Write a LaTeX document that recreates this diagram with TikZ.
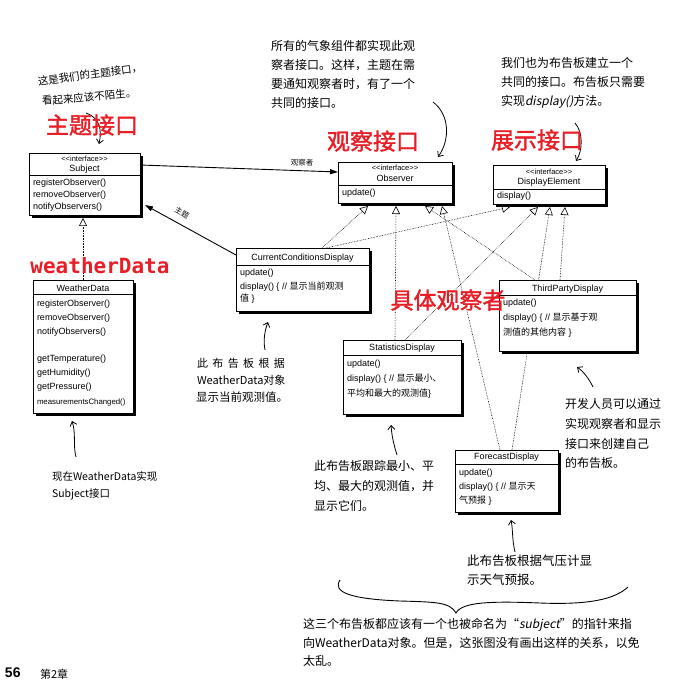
\documentclass[tikz,border=0pt]{standalone}
\usepackage{fontspec}
\setmainfont{Liberation Sans}
\newfontfamily\cjk{Noto Sans CJK SC}
\newfontfamily\cjkbold{Noto Sans CJK SC}[FakeBold=1.5]
\newfontfamily\cjkslant{Noto Sans CJK SC}[FakeSlant=0.2]
\newfontfamily\cjkwide{Noto Sans CJK SC}[LetterSpace=40]
\newfontfamily\monobold{DejaVu Sans Mono}
\usetikzlibrary{arrows.meta,shadows,calc,backgrounds}
\definecolor{lblred}{RGB}{232,30,38}
\newcommand\zh[1]{{\cjk #1}}
\newcommand\uopen{<\kern0pt<}
\newcommand\uclose{>\kern0pt>}
\begin{document}
\begin{tikzpicture}[x=1pt,y=-1pt,
  every node/.style={inner sep=0pt,outer sep=0pt},
  umlbox/.style={draw,line width=0.8pt,fill=white,anchor=north west,
    drop shadow={shadow xshift=3pt,shadow yshift=-3pt,fill=black,opacity=1}},
  umltx/.style={anchor=west,font=\fontsize{9}{10}\selectfont},
  umlhd/.style={anchor=center,font=\fontsize{9}{10}\selectfont},
  umlst/.style={anchor=center,font=\fontsize{7.5}{8}\selectfont},
  sepline/.style={line width=0.6pt},
  annot/.style={anchor=west,font=\cjk\fontsize{12}{13}\selectfont},
  redlbl/.style={anchor=center,text=lblred,font=\cjkbold\fontsize{23}{25}\selectfont},
  realize/.style={densely dotted,line width=0.6pt,-{Triangle[fill=white,length=8pt,width=8pt]}},
  assoc/.style={line width=0.9pt,-{Triangle[length=8pt,width=5pt]}},
  notearrow/.style={line width=0.8pt,-{Straight Barb[length=4pt,width=7pt]}},
  lbl/.style={font=\cjk\fontsize{7.5}{9}\selectfont}
]
\useasboundingbox (0,0) rectangle (673,692);

% ---------- class boxes ----------
\node[umlbox,minimum width=111pt,minimum height=62pt] (sub) at (29,153) {};
\node[umlbox,minimum width=114pt,minimum height=41pt] (obs) at (338,162) {};
\node[umlbox,minimum width=112pt,minimum height=39pt] (dsp) at (493,165) {};
\node[umlbox,minimum width=100pt,minimum height=133pt] (wd) at (33,280) {};
\node[umlbox,minimum width=133pt,minimum height=63pt] (ccd) at (236,248) {};
\node[umlbox,minimum width=118pt,minimum height=74pt] (sta) at (343,340) {};
\node[umlbox,minimum width=137pt,minimum height=71pt] (tpd) at (499,280) {};
\node[umlbox,minimum width=103pt,minimum height=62pt] (fcd) at (455,450) {};

% ---------- connectors (behind boxes) ----------
\coordinate (o1) at ($(obs.south west)+(30,3)$);
\coordinate (o2) at ($(obs.south west)+(58,3)$);
\coordinate (o3) at ($(obs.south west)+(87,3)$);
\coordinate (o4) at ($(obs.south west)+(104,3)$);
\coordinate (d1) at ($(dsp.south west)+(17,3)$);
\coordinate (d2) at ($(dsp.south west)+(45,3)$);
\coordinate (d3) at ($(dsp.south west)+(57,3)$);
\coordinate (d4) at ($(dsp.south west)+(72,3)$);
\coordinate (s0) at ($(sub.south)+(0,3)$);
\begin{pgfonlayer}{background}
\fill[white] (0,0) rectangle (673,692);
\draw[realize] ($(ccd.north west)+(86,0)$) -- (o1);
\draw[realize] ($(ccd.north west)+(90,0)$) -- (d1);
\draw[realize] ($(sta.north west)+(52,0)$) -- (o2);
\draw[realize] ($(sta.north west)+(62,0)$) -- (d2);
\draw[realize] ($(tpd.north west)+(36,0)$) -- (o3);
\draw[realize] ($(tpd.north west)+(61,0)$) -- (d4);
\draw[realize] ($(fcd.north west)+(45,0)$) -- (o4);
\draw[realize] ($(fcd.north west)+(57,0)$) -- (d3);
\draw[realize] (wd.north) -- (wd.north |- s0);
\draw[assoc] ($(sub.north east)+(0,12)$) -- ($(obs.north west)+(0,10)$);
\draw[assoc] ($(ccd.north west)+(0,7)$) -- ($(sub.south east)+(5,-10)$);
\end{pgfonlayer}
\node[lbl] (lobs) at (302,163) {观察者};
\node[lbl,rotate=-29] (lsub) at (182,213) {主题};

% ---------- Subject ----------
\node[umlst] (subs) at (84.5,159) {\uopen interface\uclose};
\node[umlhd] (subn) at (84.5,169) {Subject};
\draw[sepline] (29,175) -- (140,175);
\node[umltx] (subm1) at (33,183) {registerObserver()};
\node[umltx] (subm2) at (33,195) {removeObserver()};
\node[umltx] (subm3) at (33,207) {notifyObservers()};

% ---------- Observer ----------
\node[umlst] (obss) at (395,167.5) {\uopen interface\uclose};
\node[umlhd] (obsn) at (395,178) {Observer};
\draw[sepline] (338,185) -- (452,185);
\node[umltx] (obsm1) at (342,193) {update()};

% ---------- DisplayElement ----------
\node[umlst] (dsps) at (549,171.5) {\uopen interface\uclose};
\node[umlhd] (dspn) at (549,182) {DisplayElement};
\draw[sepline] (493,189) -- (605,189);
\node[umltx] (dspm1) at (497,196.5) {display()};

% ---------- WeatherData ----------
\node[umlhd] (wdn) at (83,288) {WeatherData};
\draw[sepline] (33,294) -- (133,294);
\node[umltx] (wdm1) at (37,304) {registerObserver()};
\node[umltx] (wdm2) at (37,318) {removeObserver()};
\node[umltx] (wdm3) at (37,332) {notifyObservers()};
\node[umltx] (wdm4) at (37,359) {getTemperature()};
\node[umltx] (wdm5) at (37,373) {getHumidity()};
\node[umltx] (wdm6) at (37,387) {getPressure()};
\node[umltx,font=\fontsize{7.8}{9}\selectfont] (wdm7) at (37,402) {measurementsChanged()};

% ---------- CurrentConditionsDisplay ----------
\node[umlhd] (ccdn) at (302.5,258) {CurrentConditionsDisplay};
\draw[sepline] (236,265) -- (369,265);
\node[umltx] (ccdm1) at (240,273) {update()};
\node[umltx] (ccdm2) at (240,287) {display() \{ // \zh{显示当前观测}};
\node[umltx] (ccdm3) at (240,299) {\zh{值} \}};

% ---------- StatisticsDisplay ----------
\node[umlhd] (stan) at (402,348) {StatisticsDisplay};
\draw[sepline] (343,355) -- (461,355);
\node[umltx] (stam1) at (347,364) {update()};
\node[umltx] (stam2) at (347,379) {display() \{ // \zh{显示最小、}};
\node[umltx] (stam3) at (347,394) {\zh{平均和最大的观测值}\}};

% ---------- ThirdPartyDisplay ----------
\node[umlhd] (tpdn) at (567.5,289) {ThirdPartyDisplay};
\draw[sepline] (499,295) -- (636,295);
\node[umltx] (tpdm1) at (503,303) {update()};
\node[umltx] (tpdm2) at (503,318) {display() \{ // \zh{显示基于观}};
\node[umltx] (tpdm3) at (503,333) {\zh{测值的其他内容} \}};

% ---------- ForecastDisplay ----------
\node[umlhd] (fcdn) at (506.5,457) {ForecastDisplay};
\draw[sepline] (455,464) -- (558,464);
\node[umltx] (fcdm1) at (459,473) {update()};
\node[umltx] (fcdm2) at (459,487) {display() \{ // \zh{显示天}};
\node[umltx] (fcdm3) at (459,501) {\zh{气预报} \}};

% ---------- annotations ----------
\node[annot,font=\cjk\fontsize{10.5}{12}\selectfont,rotate=8] (ntl1) at (38,82) {这是我们的主题接口，};
\node[annot,font=\cjk\fontsize{10.5}{12}\selectfont,rotate=5] (ntl2) at (42,101) {看起来应该不陌生。};

\node[annot] (nob1) at (271,46) {所有的气象组件都实现此观};
\node[annot] (nob2) at (271,65) {察者接口。这样，主题在需};
\node[annot] (nob3) at (271,84) {要通知观察者时，有了一个};
\node[annot] (nob4) at (271,103) {共同的接口。};

\node[annot] (nds1) at (501,63) {我们也为布告板建立一个};
\node[annot] (nds2) at (501,82) {共同的接口。布告板只需要};
\node[annot] (nds3) at (501,102) {实现{\cjkslant display()}方法。};

\node[annot,font=\cjk\fontsize{10.5}{12}\selectfont] (nwd1) at (52,476) {现在WeatherData实现};
\node[annot,font=\cjk\fontsize{10.5}{12}\selectfont] (nwd2) at (52,494) {Subject接口};

\node[annot,font=\cjkwide\fontsize{11}{12}\selectfont] (ncc1) at (197,363) {此布告板根据};
\node[annot,font=\cjk\fontsize{11}{12}\selectfont] (ncc2) at (197,380) {WeatherData对象};
\node[annot,font=\cjk\fontsize{11.5}{12}\selectfont] (ncc3) at (196,397) {显示当前观测值。};

\node[annot] (nst1) at (314,466) {此布告板跟踪最小、平};
\node[annot] (nst2) at (314,486) {均、最大的观测值，并};
\node[annot] (nst3) at (314,506) {显示它们。};

\node[annot] (ntp1) at (565,404) {开发人员可以通过};
\node[annot] (ntp2) at (565,424) {实现观察者和显示};
\node[annot] (ntp3) at (565,444) {接口来创建自己};
\node[annot] (ntp4) at (565,463) {的布告板。};

\node[annot,font=\cjk\fontsize{12.5}{13}\selectfont] (nfc1) at (467,561) {此布告板根据气压计显};
\node[annot,font=\cjk\fontsize{12.5}{13}\selectfont] (nfc2) at (467,580) {示天气预报。};

\node[annot] (nbt1) at (303,625) {这三个布告板都应该有一个也被命名为“{\cjkslant subject}”的指针来指};
\node[annot] (nbt2) at (303,643) {向WeatherData对象。但是，这张图没有画出这样的关系，以免};
\node[annot] (nbt3) at (303,661) {太乱。};

\node[anchor=west,font=\bfseries\fontsize{14}{15}\selectfont] (pg) at (5,673) {56};
\node[anchor=west,font=\cjk\fontsize{11}{12}\selectfont] (ch) at (40,674) {第2章};

% ---------- annotation arrows ----------
\coordinate (a1s) at (86,113); \coordinate (a1e) at (99,144);
\draw[notearrow] (a1s) .. controls (100,118) and (102,130) .. (a1e);
\coordinate (a2s) at (433,102); \coordinate (a2e) at (438,157);
\draw[notearrow] (a2s) .. controls (450,115) and (450,140) .. (a2e);
\coordinate (a3s) at (575,123); \coordinate (a3e) at (576,161);
\draw[notearrow] (a3s) .. controls (583,132) and (583,150) .. (a3e);
\coordinate (a4s) at (76,457); \coordinate (a4e) at (72,421);
\draw[notearrow] (a4s) .. controls (73,446) and (76,433) .. (a4e);
\coordinate (a5s) at (265,350); \coordinate (a5e) at (268,322);
\draw[notearrow] (a5s) .. controls (263,340) and (265,330) .. (a5e);
\coordinate (a6s) at (397,455); \coordinate (a6e) at (391,425);
\draw[notearrow] (a6s) .. controls (394,445) and (392,438) .. (a6e);
\coordinate (a7s) at (593,387); \coordinate (a7e) at (577,367);
\draw[notearrow] (a7s) .. controls (589,379) and (584,372) .. (a7e);
\coordinate (a8s) at (515,552); \coordinate (a8e) at (511,520);
\draw[notearrow] (a8s) .. controls (512,540) and (513,530) .. (a8e);

% ---------- brace ----------
\draw[line width=0.9pt] (340,580) .. controls (332,592) and (350,599) .. (400,601)
  .. controls (435,602) and (450,602) .. (456,613)
  .. controls (462,602) and (490,601) .. (540,603)
  .. controls (590,605) and (615,599) .. (628,587);

% ---------- red labels ----------
\node[redlbl] (rsub) at (92,125) {主题接口};
\node[redlbl] (robs) at (373,141) {观察接口};
\node[redlbl] (rdsp) at (537,140) {展示接口};
\node[redlbl] (rcon) at (448,300) {具体观察者};
\node[anchor=center,text=lblred,font=\monobold\bfseries\fontsize{21}{23}\selectfont] (rwd) at (100,266) {weatherData};
\end{tikzpicture}
\end{document}
